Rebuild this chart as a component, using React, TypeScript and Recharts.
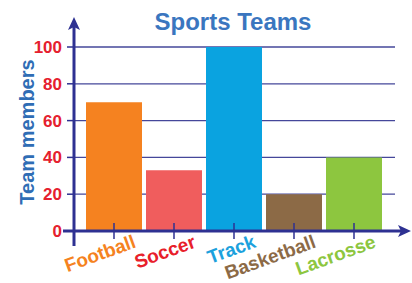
import { BarChart, Bar, XAxis, YAxis, CartesianGrid, Cell } from "recharts";

const sports = ["Football", "Soccer", "Track", "Basketball", "Lacrosse"];
const members = [70, 33, 100, 20, 40];
const barColors = ["#f58220", "#f05d5d", "#0aa3e0", "#8c6a46", "#8dc63f"];
const labelColors = ["#f58220", "#e8202a", "#1ba1dd", "#8c6a46", "#8dc63f"];
const yTicks = [0, 20, 40, 60, 80, 100];

const data = sports.map((name, i) => ({ name, value: members[i] }));

const W = 412;
const H = 283;
const AXIS = "#2e3192";
const GRID = "#45479a";

// layout of the plot area, shared with the overlay
const margin = { top: 47, right: 17, bottom: 22, left: 0 };
const yAxisWidth = 74;
const xAxisHeight = 30;
const plotLeft = margin.left + yAxisWidth;
const plotBottom = H - margin.bottom - xAxisHeight;

type TickProps = {
  x?: number;
  y?: number;
  index?: number;
  payload?: { value: string };
};

function SportTick({ x, y, index, payload }: TickProps) {
  if (x == null || y == null || payload == null) return null;
  const color = labelColors[index ?? 0];
  const tx = x + 23;
  const ty = y + 16;
  return (
    <g>
      <line x1={x} x2={x} y1={y - 8} y2={y + 8} stroke={AXIS} strokeWidth={1.5} />
      <text
        x={tx}
        y={ty}
        textAnchor="end"
        fill={color}
        fontSize={19}
        fontWeight="bold"
        fontFamily="Liberation Sans, Arial, sans-serif"
        transform={`rotate(-20 ${tx} ${ty})`}
      >
        {payload.value}
      </text>
    </g>
  );
}

export default function App() {
  return (
    <div style={{ position: "fixed", left: 0, top: 0, width: W, height: H, background: "#fff" }}>
      <BarChart width={W} height={H} data={data} margin={margin} barCategoryGap={2}>
        <CartesianGrid vertical={false} stroke={GRID} strokeWidth={1.3} />
        <XAxis
          dataKey="name"
          height={xAxisHeight}
          padding={{ left: 10, right: 11 }}
          axisLine={false}
          tickLine={false}
          tickSize={0}
          tickMargin={0}
          interval={0}
          tick={<SportTick />}
        />
        <YAxis
          width={yAxisWidth}
          domain={[0, 100]}
          ticks={yTicks}
          interval={0}
          axisLine={false}
          tickSize={7}
          tickMargin={5}
          tickLine={{ stroke: AXIS, strokeWidth: 1.5 }}
          tick={{
            fill: "#e5202e",
            fontSize: 17,
            fontWeight: "bold",
            fontFamily: "Liberation Sans, Arial, sans-serif",
          }}
        />
        <Bar dataKey="value" isAnimationActive={false}>
          {data.map((d, i) => (
            <Cell key={d.name} fill={barColors[i]} />
          ))}
        </Bar>
      </BarChart>
      <svg
        width={W}
        height={H}
        style={{ position: "absolute", left: 0, top: 0, pointerEvents: "none" }}
        fontFamily="Liberation Sans, Arial, sans-serif"
      >
        {/* axes with arrow heads */}
        <line x1={plotLeft} x2={plotLeft} y1={plotBottom + 15} y2={26} stroke={AXIS} strokeWidth={3} />
        <path
          d={`M ${plotLeft} 17 L ${plotLeft + 6} 30 L ${plotLeft} 27 L ${plotLeft - 6} 30 Z`}
          fill={AXIS}
        />
        <line x1={plotLeft - 11} x2={402} y1={plotBottom} y2={plotBottom} stroke={AXIS} strokeWidth={3} />
        <path
          d={`M 411 ${plotBottom} L 398 ${plotBottom - 6} L 401 ${plotBottom} L 398 ${plotBottom + 6} Z`}
          fill={AXIS}
        />
        <text x={233} y={30} textAnchor="middle" fill="#3a76bf" fontSize={24} fontWeight="bold">
          Sports Teams
        </text>
        <text
          x={34}
          y={132}
          textAnchor="middle"
          fill="#2f6db5"
          fontSize={20}
          fontWeight="bold"
          transform="rotate(-90 34 132)"
        >
          Team members
        </text>
      </svg>
    </div>
  );
}
